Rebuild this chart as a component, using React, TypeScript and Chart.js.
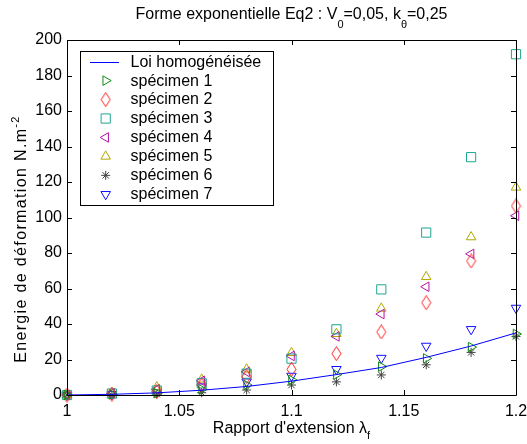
import React, { useEffect, useRef } from 'react';
import { Chart, registerables } from 'chart.js';
import { drawPoint } from 'chart.js/helpers';

Chart.register(...registerables);

// ---- data ----
const lambda = [1, 1.02, 1.04, 1.06, 1.08, 1.1, 1.12, 1.14, 1.16, 1.18, 1.2];
const loiHomogeneisee = [0, 0.4, 1.2, 2.7, 4.8, 7.8, 11.5, 15.5, 21.2, 27.6, 35];
const specimen1 = [0, 0.3, 1.0, 3.2, 5.6, 8.5, 11.5, 16, 20.6, 27, 34.4];
const specimen2 = [0, 0.5, 2.0, 5.6, 10.3, 14.5, 23.3, 35.5, 52, 75.5, 106.5];
const specimen3 = [0, 0.8, 2.5, 6.6, 12, 20.5, 37, 59.5, 91.5, 134, 192];
const specimen4 = [0, 1.0, 3.2, 8, 13, 22, 33, 45.6, 61, 79.5, 101];
const specimen5 = [0, 1.2, 4.5, 8.8, 14.5, 23.8, 34.5, 48.8, 66.6, 89, 117];
const specimen6 = [0, 0.1, 0.5, 1.3, 2.8, 5.6, 7.4, 11.3, 17, 24, 33];
const specimen7 = [0, 0.4, 1.5, 4.7, 7.5, 10.7, 14.5, 20.8, 27.6, 37, 49];

const xTicks = [1, 1.05, 1.1, 1.15, 1.2];
const yTicks = [0, 20, 40, 60, 80, 100, 120, 140, 160, 180, 200];

const seriesLabels = [
  'Loi homogénéisée',
  'spécimen 1',
  'spécimen 2',
  'spécimen 3',
  'spécimen 4',
  'spécimen 5',
  'spécimen 6',
  'spécimen 7',
];

const FONT = '"Liberation Sans", Arial, Helvetica, sans-serif';

type Seg = { t: string; k?: 'sub' | 'sup' };

function richWidth(ctx: CanvasRenderingContext2D, segs: Seg[], fs: number, sfs: number) {
  let w = 0;
  for (const s of segs) {
    ctx.font = `${s.k ? sfs : fs}px ${FONT}`;
    w += ctx.measureText(s.t).width;
  }
  return w;
}

function drawRich(
  ctx: CanvasRenderingContext2D,
  segs: Seg[],
  cx: number,
  baseline: number,
  fs: number,
  sfs: number,
  subDy: number,
  supDy: number
) {
  const total = richWidth(ctx, segs, fs, sfs);
  let x = cx - total / 2;
  ctx.textAlign = 'left';
  ctx.textBaseline = 'alphabetic';
  for (const s of segs) {
    ctx.font = `${s.k ? sfs : fs}px ${FONT}`;
    const dy = s.k === 'sub' ? subDy : s.k === 'sup' ? -supDy : 0;
    ctx.fillText(s.t, x, baseline + dy);
    x += ctx.measureText(s.t).width;
  }
}

// tall, narrow diamond like MATLAB's 'd' marker
function makeDiamond(color: string) {
  const c = document.createElement('canvas');
  c.width = 11;
  c.height = 15;
  const g = c.getContext('2d')!;
  g.strokeStyle = color;
  g.lineWidth = 1;
  g.beginPath();
  g.moveTo(5.5, 0.5);
  g.lineTo(10, 7.5);
  g.lineTo(5.5, 14.5);
  g.lineTo(1, 7.5);
  g.closePath();
  g.stroke();
  return c;
}

const decorPlugin = {
  id: 'matlabDecor',
  afterDraw(chart: any) {
    const ctx: CanvasRenderingContext2D = chart.ctx;
    const { left, right, top, bottom } = chart.chartArea;
    const xs = chart.scales.x;
    const ys = chart.scales.y;
    ctx.save();
    // box
    ctx.strokeStyle = '#000';
    ctx.lineWidth = 1;
    ctx.beginPath();
    ctx.rect(Math.round(left) + 0.5, Math.round(top) + 0.5, Math.round(right - left), Math.round(bottom - top));
    ctx.stroke();
    // inward ticks
    const tl = 5;
    ctx.beginPath();
    for (const v of xTicks) {
      const px = Math.round(xs.getPixelForValue(v)) + 0.5;
      ctx.moveTo(px, bottom);
      ctx.lineTo(px, bottom - tl);
      ctx.moveTo(px, top);
      ctx.lineTo(px, top + tl);
    }
    for (const v of yTicks) {
      const py = Math.round(ys.getPixelForValue(v)) + 0.5;
      ctx.moveTo(left, py);
      ctx.lineTo(left + tl, py);
      ctx.moveTo(right, py);
      ctx.lineTo(right - tl, py);
    }
    ctx.stroke();

    ctx.fillStyle = '#000';
    const cx = (left + right) / 2;
    // title
    drawRich(
      ctx,
      [
        { t: 'Forme exponentielle Eq2 : V' },
        { t: '0', k: 'sub' },
        { t: '=0,05, k' },
        { t: 'θ', k: 'sub' },
        { t: '=0,25' },
      ],
      cx,
      18.5,
      16,
      11,
      9,
      7
    );
    // x title
    drawRich(ctx, [{ t: "Rapport d'extension λ" }, { t: 'f', k: 'sub' }], cx, 432.5, 16, 11, 6, 7);
    // y title (rotated, with wider letter spacing like the reference)
    ctx.save();
    ctx.translate(26, 239);
    ctx.rotate(-Math.PI / 2);
    (ctx as any).letterSpacing = '1.35px';
    drawRich(ctx, [{ t: 'Energie de déformation N.m' }, { t: '-2', k: 'sup' }], 0, 0, 16, 11, 6, 7);
    (ctx as any).letterSpacing = '0px';
    ctx.restore();

    // legend
    const lx0 = 80.5, ly0 = 51.5, lx1 = 273.5, ly1 = 205.5;
    ctx.fillStyle = '#fff';
    ctx.fillRect(lx0, ly0, lx1 - lx0, ly1 - ly0);
    ctx.strokeStyle = '#000';
    ctx.strokeRect(lx0, ly0, lx1 - lx0, ly1 - ly0);
    const rowH = 18.94;
    chart.data.datasets.forEach((ds: any, i: number) => {
      const y = 61.7 + i * rowH;
      ctx.strokeStyle = ds.borderColor;
      ctx.fillStyle = 'rgba(0,0,0,0)';
      if (ds.showLine) {
        ctx.lineWidth = 1;
        ctx.beginPath();
        ctx.moveTo(90, Math.round(y) + 0.5);
        ctx.lineTo(119, Math.round(y) + 0.5);
        ctx.stroke();
      } else {
        ctx.lineWidth = ds.pointBorderWidth;
        drawPoint(
          ctx,
          {
            pointStyle: ds.pointStyle,
            rotation: ds.pointRotation || 0,
            radius: ds.pointRadius,
            borderWidth: ds.pointBorderWidth,
          } as any,
          105.7,
          y
        );
      }
      ctx.fillStyle = '#000';
      ctx.font = `16px ${FONT}`;
      ctx.textAlign = 'left';
      ctx.textBaseline = 'middle';
      ctx.fillText(ds.label, 130.5, y + 0.5);
    });
    ctx.restore();
  },
};

function pts(ys: number[]) {
  return lambda.map((x, i) => ({ x, y: ys[i] }));
}

function marker(label: string, ys: number[], color: string, style: any, rotation = 0, radius = 5.5) {
  return {
    label,
    data: pts(ys),
    showLine: false,
    borderColor: color,
    backgroundColor: 'rgba(0,0,0,0)',
    pointBorderColor: color,
    pointBackgroundColor: 'rgba(0,0,0,0)',
    pointStyle: style,
    pointRotation: rotation,
    pointRadius: radius,
    pointBorderWidth: 1,
    clip: false as any,
  };
}

export default function App() {
  const ref = useRef<HTMLCanvasElement | null>(null);
  useEffect(() => {
    if (!ref.current) return;
    const diamond = makeDiamond('#ff2020');
    const chart = new Chart(ref.current, {
      type: 'scatter',
      data: {
        datasets: [
          {
            label: seriesLabels[0],
            data: pts(loiHomogeneisee),
            showLine: true,
            borderColor: '#0000ff',
            backgroundColor: '#0000ff',
            borderWidth: 1,
            pointRadius: 0,
            clip: false as any,
            order: 0,
          } as any,
          marker(seriesLabels[1], specimen1, '#108a10', 'triangle', 90),
          marker(seriesLabels[2], specimen2, '#ff2020', diamond, 0, 6),
          marker(seriesLabels[3], specimen3, '#1ea592', 'rect', 0, 6.5),
          marker(seriesLabels[4], specimen4, '#b515a8', 'triangle', -90),
          marker(seriesLabels[5], specimen5, '#b0a800', 'triangle', 0),
          marker(seriesLabels[6], specimen6, '#404040', 'star', 0, 4.5),
          marker(seriesLabels[7], specimen7, '#1010ff', 'triangle', 180),
        ],
      },
      options: {
        animation: false,
        responsive: false,
        maintainAspectRatio: false,
        layout: { padding: { top: 40, right: 11, left: 0, bottom: 0 } },
        plugins: {
          legend: { display: false },
          title: { display: false },
          tooltip: { enabled: false },
        },
        scales: {
          x: {
            type: 'linear',
            min: 1,
            max: 1.2,
            afterBuildTicks: (scale: any) => {
              scale.ticks = xTicks.map((v) => ({ value: v }));
            },
            afterFit: (scale: any) => {
              scale.height = 49;
              scale.paddingLeft = 0;
              scale.paddingRight = 0;
            },
            ticks: {
              color: '#000',
              font: { size: 16, family: FONT },
              padding: 7,
              maxRotation: 0,
              autoSkip: false,
              callback: (v: any) => String(Number(Number(v).toFixed(2))),
            },
            grid: { display: false, drawTicks: false },
            border: { display: false },
          },
          y: {
            type: 'linear',
            min: 0,
            max: 200,
            afterBuildTicks: (scale: any) => {
              scale.ticks = yTicks.map((v) => ({ value: v }));
            },
            afterFit: (scale: any) => {
              scale.width = 67;
              scale.paddingTop = 0;
              scale.paddingBottom = 0;
            },
            ticks: {
              color: '#000',
              font: { size: 16, family: FONT },
              padding: 5,
              autoSkip: false,
              callback: (v: any) => String(v),
            },
            grid: { display: false, drawTicks: false },
            border: { display: false },
          },
        },
      } as any,
      plugins: [decorPlugin],
    });
    return () => chart.destroy();
  }, []);
  return (
    <div style={{ position: 'absolute', left: 0, top: 0, width: 527, height: 444, background: '#fff' }}>
      <canvas ref={ref} width={527} height={444} style={{ display: 'block', width: 527, height: 444 }} />
    </div>
  );
}
